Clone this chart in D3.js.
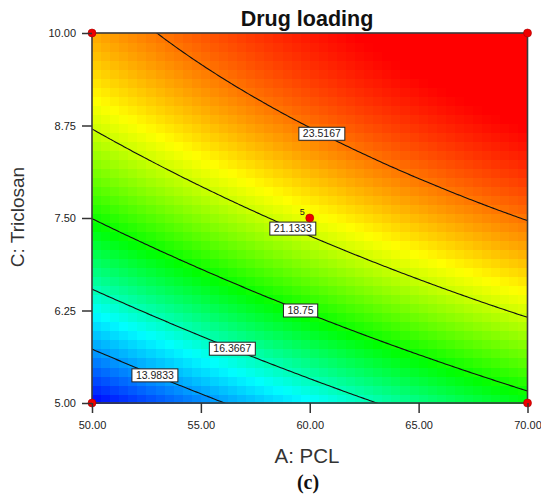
<!DOCTYPE html>
<html><head><meta charset="utf-8">
<script src="https://cdn.jsdelivr.net/npm/d3@7"></script>
<style>body{margin:0;background:#fff} svg{display:block}</style>
</head><body>
<svg id="chart" width="541" height="502"></svg>
<script>
// ---- data ----
const titleText = "Drug loading";
const xLabel = "A: PCL";
const yLabel = "C: Triclosan";
const panelLabel = "(c)";
const xDomain = [50, 70];
const yDomain = [5, 10];
const xTicks = [50, 55, 60, 65, 70];
const yTicks = [5, 6.25, 7.5, 8.75, 10];
const contourLevels = [13.9833, 16.3667, 18.75, 21.1333, 23.5167];
const contourLabelA = [52.9, 56.4, 59.6, 59.2, 60.5];
// fitted quadratic model in coded factors (a=(A-60)/10, c=(C-7.5)/2.5)
const modelTerms = ["Intercept", "A", "C", "AC", "A^2", "C^2"];
const modelCoefs = [21.6, 2.4, 4.68, -0.975, -0.43, -1.55];
const colorStops = [11.6, 15.5, 18.6, 21.8, 25.0];
const colorRamp = ["#0000ff", "#00ffff", "#00ff00", "#ffff00", "#ff0000"];
const designA = [50, 70, 50, 70, 60];
const designC = [5, 5, 10, 10, 7.5];
const designReps = [1, 1, 1, 1, 5];

// ---- layout ----
const svg = d3.select("#chart");
const L = 92, R = 527.5, T = 33, B = 403;
const x = d3.scaleLinear(xDomain, [L, R]);
const y = d3.scaleLinear(yDomain, [B, T]);
const color = d3.scaleLinear(colorStops, colorRamp).clamp(true).interpolate(d3.interpolateRgb);

function response(A, C) {
  const a = (A - 60) / 10, c = (C - 7.5) / 2.5;
  const k = modelCoefs;
  return k[0] + k[1]*a + k[2]*c + k[3]*a*c + k[4]*a*a + k[5]*c*c;
}

// ---- heat cells ----
const nx = 48, ny = 41;
const cw = (xDomain[1]-xDomain[0]) / nx, ch = (yDomain[1]-yDomain[0]) / ny;
const cells = [];
for (let j = 0; j < ny; j++) for (let i = 0; i < nx; i++) {
  const A0 = xDomain[0] + i*cw, C0 = yDomain[0] + j*ch;
  cells.push({A0, C0, v: response(A0 + cw/2, C0 + ch/2)});
}
svg.append("g").attr("shape-rendering", "crispEdges")
  .selectAll("rect").data(cells).join("rect")
  .attr("x", d => x(d.A0))
  .attr("y", d => y(d.C0 + ch))
  .attr("width", d => x(d.A0 + cw) - x(d.A0) + 0.6)
  .attr("height", d => y(d.C0) - y(d.C0 + ch) + 0.6)
  .attr("fill", d => color(d.v));

// ---- contours ----
const n = 200, m = 180, pad = 10;
const dA = (xDomain[1]-xDomain[0]) / (n - 2*pad), dC = (yDomain[1]-yDomain[0]) / (m - 2*pad);
const values = new Array(n*m);
for (let j = 0; j < m; j++) for (let k = 0; k < n; k++)
  values[j*n + k] = response(xDomain[0] + (k - pad)*dA, yDomain[0] + (j - pad)*dC);
const gA = u => xDomain[0] + (u - 0.5 - pad)*dA;
const gC = v => yDomain[0] + (v - 0.5 - pad)*dC;
const proj = d3.geoTransform({point(u, v) { this.stream.point(x(gA(u)), y(gC(v))); }});
const path = d3.geoPath(proj);
const contours = d3.contours().size([n, m]).thresholds(contourLevels)(values);

svg.append("clipPath").attr("id", "plotclip")
  .append("rect").attr("x", L).attr("y", T).attr("width", R-L).attr("height", B-T);
svg.append("g").attr("clip-path", "url(#plotclip)")
  .selectAll("path").data(contours).join("path")
  .attr("d", path).attr("fill", "none").attr("stroke", "#111").attr("stroke-width", 1.1);

// ---- plot border ----
svg.append("rect").attr("x", L).attr("y", T).attr("width", R-L).attr("height", B-T)
  .attr("fill", "none").attr("stroke", "#3a3a3a").attr("stroke-width", 1.6);

// ---- contour labels ----
const labG = svg.append("g");
contours.forEach((ct, idx) => {
  const target = contourLabelA[idx];
  let best = null, bd = Infinity;
  ct.coordinates.forEach(poly => poly.forEach(ring => ring.forEach(([u, v]) => {
    const A = gA(u), C = gC(v);
    if (A < xDomain[0] || A > xDomain[1] || C < yDomain[0] || C > yDomain[1]) return;
    const d = Math.abs(A - target);
    if (d < bd) { bd = d; best = [A, C]; }
  })));
  if (!best) return;
  const px = x(best[0]), py = y(best[1]);
  const g = labG.append("g").attr("transform", `translate(${px},${py})`);
  const rect = g.append("rect");
  const t = g.append("text").text(ct.value).attr("text-anchor", "middle").attr("dy", "0.35em")
    .attr("font-family", "Liberation Sans, Arial, sans-serif").attr("font-size", 10.5).attr("fill", "#222");
  const w = t.node().getComputedTextLength() + 8;
  rect.attr("x", -w/2).attr("y", -6.5).attr("width", w).attr("height", 13)
    .attr("fill", "#fff").attr("stroke", "#222").attr("stroke-width", 1);
});

// ---- design points ----
const dp = designA.map((A, i) => ({A, C: designC[i], r: designReps[i]}));
svg.append("g").selectAll("circle").data(dp).join("circle")
  .attr("cx", d => x(d.A)).attr("cy", d => y(d.C)).attr("r", 4)
  .attr("fill", "#ee0000").attr("stroke", "#aa0000").attr("stroke-width", 0.6);
svg.append("g").selectAll("text").data(dp.filter(d => d.r > 1)).join("text")
  .attr("x", d => x(d.A) - 10).attr("y", d => y(d.C) - 3)
  .attr("font-family", "Liberation Sans, Arial, sans-serif").attr("font-size", 9).attr("fill", "#222")
  .text(d => d.r);

// ---- axes ----
const fmt = d3.format(".2f");
const xAxis = svg.append("g").attr("transform", `translate(0,${B})`)
  .call(d3.axisBottom(x).tickValues(xTicks).tickFormat(fmt).tickSize(10).tickPadding(8));
const yAxis = svg.append("g").attr("transform", `translate(${L},0)`)
  .call(d3.axisLeft(y).tickValues(yTicks).tickFormat(fmt).tickSize(10).tickPadding(6));
[xAxis, yAxis].forEach(ax => {
  ax.select(".domain").remove();
  ax.selectAll(".tick line").attr("stroke", "#333").attr("stroke-width", 1.5);
  ax.selectAll(".tick text").attr("font-family", "Liberation Sans, Arial, sans-serif")
    .attr("font-size", 11).attr("fill", "#222");
});

// ---- titles ----
svg.append("text").attr("x", 307).attr("y", 26).attr("text-anchor", "middle")
  .attr("font-family", "Liberation Sans, Arial, sans-serif").attr("font-weight", "bold")
  .attr("font-size", 21.5).attr("fill", "#111").text(titleText);
svg.append("text").attr("x", 307).attr("y", 463).attr("text-anchor", "middle")
  .attr("font-family", "Liberation Sans, Arial, sans-serif")
  .attr("font-size", 20.5).attr("fill", "#333").text(xLabel);
svg.append("text").attr("transform", "translate(24,217) rotate(-90)").attr("text-anchor", "middle")
  .attr("font-family", "Liberation Sans, Arial, sans-serif")
  .attr("font-size", 19).attr("fill", "#333").text(yLabel);
svg.append("text").attr("x", 308).attr("y", 489).attr("text-anchor", "middle")
  .attr("font-family", "Liberation Serif, Times New Roman, serif").attr("font-weight", "bold")
  .attr("font-size", 20).attr("fill", "#111").text(panelLabel);
</script>
</body></html>
